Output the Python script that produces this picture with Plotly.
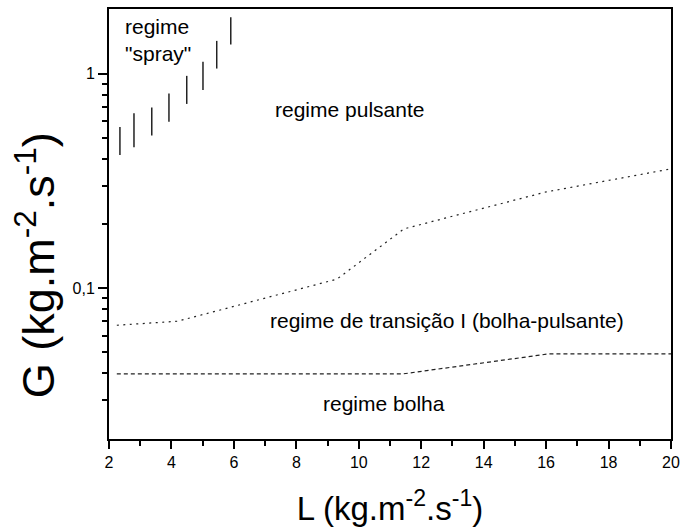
import math
import plotly.graph_objects as go

# Flow-regime map: liquid mass flux L vs gas mass flux G
# Spray-regime boundary observations (vertical bands)
spray_L = [2.35, 2.8, 3.37, 3.92, 4.49, 5.01, 5.45, 5.9]
spray_G_low = [0.418, 0.454, 0.515, 0.598, 0.724, 0.842, 1.059, 1.370]
spray_G_high = [0.565, 0.655, 0.696, 0.809, 0.979, 1.138, 1.426, 1.841]

# Pulsing / transition boundary (dotted)
pulse_L = [2.25, 4.2, 9.3, 11.45, 16.0, 20.0]
pulse_G = [0.067, 0.070, 0.110, 0.189, 0.281, 0.360]

# Transition / bubble boundary (dashed)
bubble_L = [2.25, 11.4, 16.1, 20.0]
bubble_G = [0.0397, 0.0397, 0.0493, 0.0493]

# Axis ticks
x_major = [2, 4, 6, 8, 10, 12, 14, 16, 18, 20]
x_minor = [3, 5, 7, 9, 11, 13, 15, 17, 19]
y_major = [0.1, 1]
y_major_text = ["0,1", "1"]
y_minor = [0.03, 0.04, 0.05, 0.06, 0.07, 0.08, 0.09,
           0.2, 0.3, 0.4, 0.5, 0.6, 0.7, 0.8, 0.9]

# Region labels: (L, G, text, anchor)
region_labels = [
    (2.45, 1.44, 'regime<br>"spray"', "left"),
    (9.69, 0.679, "regime pulsante", "center"),
    (12.84, 0.0704, "regime de transição I (bolha-pulsante)", "center"),
    (10.81, 0.029, "regime bolha", "center"),
]

FONT = "Liberation Sans, Arial, sans-serif"

fig = go.Figure()

# vertical segments for the spray regime
sx, sy = [], []
for L, lo, hi in zip(spray_L, spray_G_low, spray_G_high):
    sx += [L, L, None]
    sy += [lo, hi, None]
fig.add_trace(go.Scatter(x=sx, y=sy, mode="lines",
                         line=dict(color="#222222", width=1.5),
                         showlegend=False, hoverinfo="skip"))

fig.add_trace(go.Scatter(x=pulse_L, y=pulse_G, mode="lines",
                         line=dict(color="#222222", width=1.2, dash="2px,4.5px"),
                         showlegend=False))

fig.add_trace(go.Scatter(x=bubble_L, y=bubble_G, mode="lines",
                         line=dict(color="#222222", width=1.2, dash="4px,3px"),
                         showlegend=False))

for x, y, txt, anchor in region_labels:
    # annotation y on a log axis is given in log10 units
    fig.add_annotation(x=x, y=math.log10(y), text=txt, showarrow=False,
                       xanchor=anchor, yanchor="middle", align="left",
                       font=dict(family=FONT, size=21, color="black"))

# y-axis title placed beside the axis
fig.add_annotation(xref="paper", yref="paper", x=-0.131, y=0.405,
                   text="G (kg.m<sup>-2</sup>.s<sup>-1</sup>)", textangle=-90,
                   showarrow=False, xanchor="center", yanchor="middle",
                   font=dict(family=FONT, size=45, color="black"))

axis_common = dict(
    showline=True, linecolor="black", linewidth=2, mirror=True,
    ticks="outside", tickcolor="black", tickwidth=1.5,
    showgrid=False, zeroline=False,
    tickfont=dict(family=FONT, size=16, color="black"),
)

fig.update_xaxes(
    range=[2, 20], tickmode="array", tickvals=x_major, ticklen=8,
    minor=dict(tickvals=x_minor, ticks="outside", ticklen=5,
               tickcolor="black", tickwidth=1.5),
    title=dict(text="L (kg.m<sup>-2</sup>.s<sup>-1</sup>)",
               font=dict(family=FONT, size=33, color="black"), standoff=27),
    **axis_common,
)
fig.update_yaxes(
    type="log", range=[-1.705, 0.303], tickmode="array",
    tickvals=y_major, ticktext=y_major_text, ticklen=9,
    minor=dict(tickvals=y_minor, ticks="outside", ticklen=5,
               tickcolor="black", tickwidth=1.5),
    **axis_common,
)

fig.update_layout(
    width=682, height=528,
    margin=dict(l=109, r=11, t=9, b=89, autoexpand=False),
    paper_bgcolor="white", plot_bgcolor="white",
    showlegend=False,
)

fig.write_html("out.html")
